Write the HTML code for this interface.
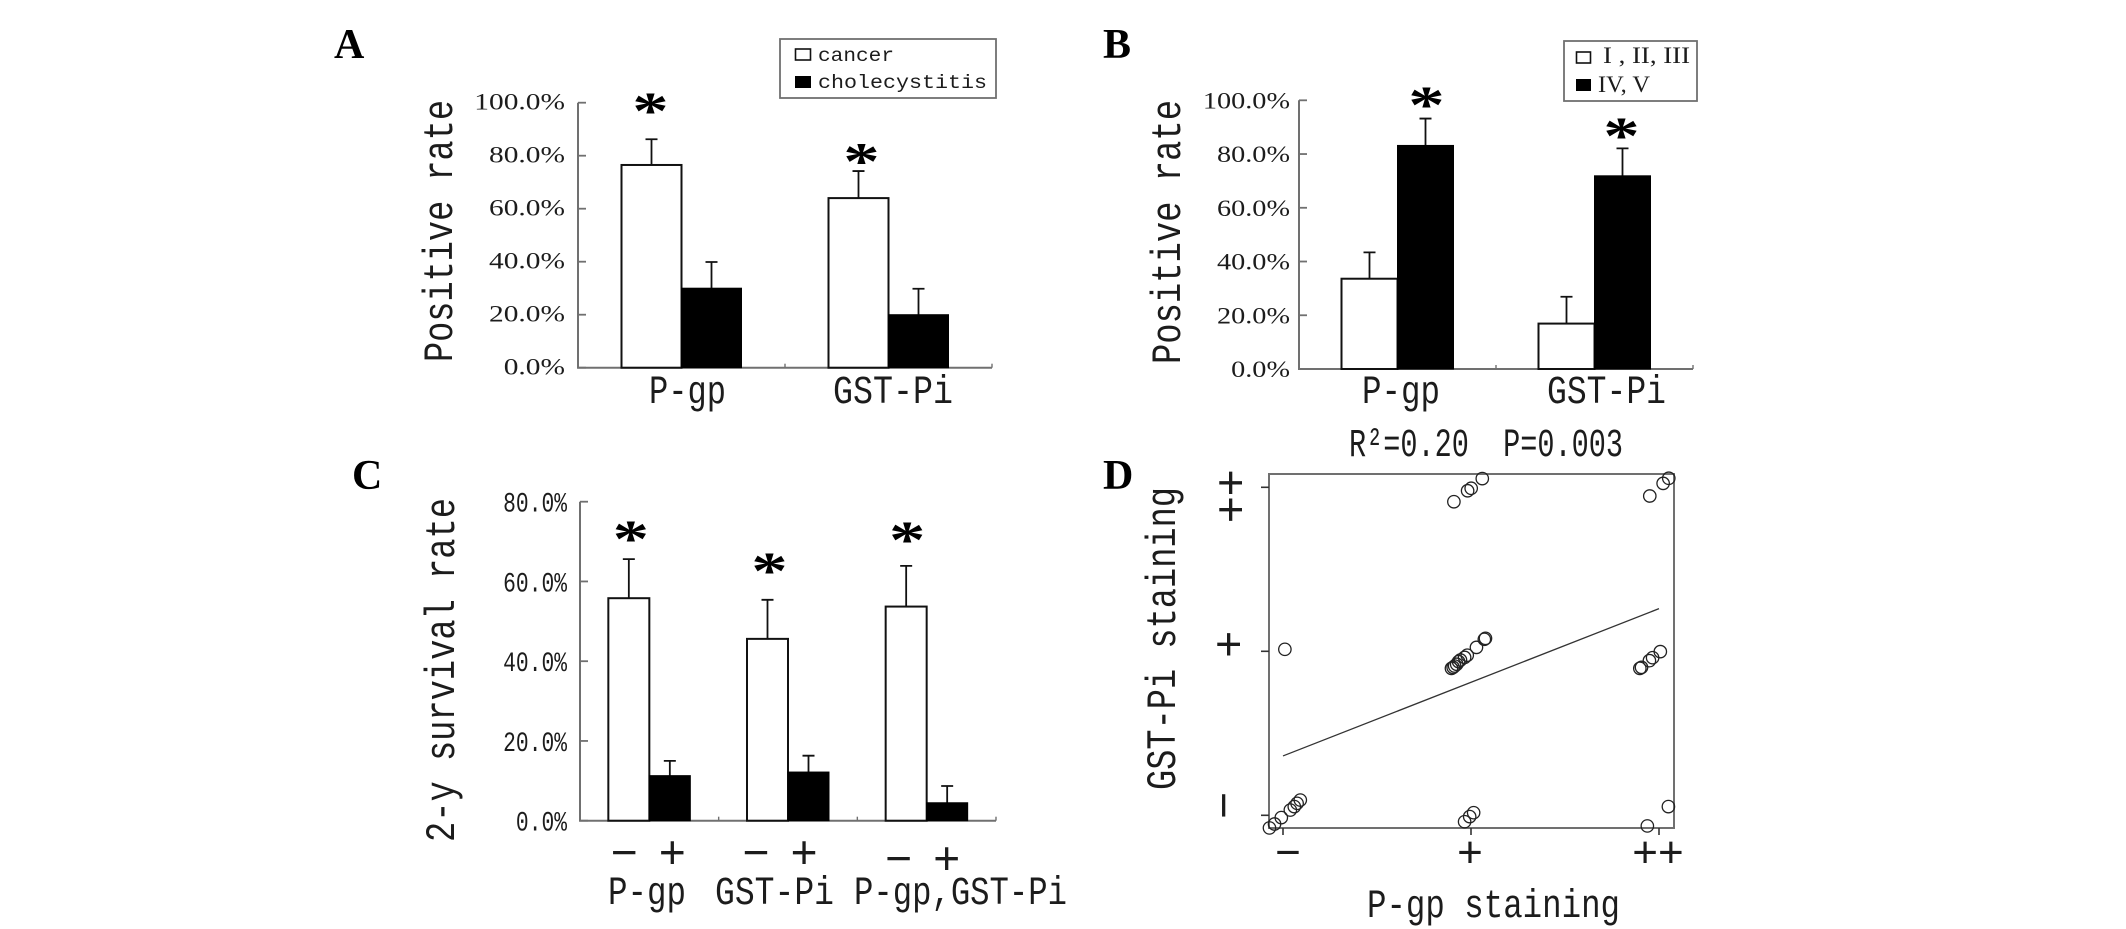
<!DOCTYPE html>
<html lang="en">
<head>
<meta charset="utf-8">
<title>P-gp and GST-Pi staining charts</title>
<style>
  html, body { margin: 0; padding: 0; background: #fff; }
  svg { display: block; filter: blur(0.35px); }
  text { fill: #1c1c1c; }
  .mono { font-family: "Liberation Mono", monospace; }
  .serif { font-family: "Liberation Serif", serif; }
  .sans { font-family: "Liberation Sans", sans-serif; }
  .panel { font-family: "Liberation Serif", serif; font-weight: bold; font-size: 42px; fill: #000; }
</style>
</head>
<body>
<svg id="figure" xmlns="http://www.w3.org/2000/svg" width="2126" height="929" viewBox="0 0 2126 929">
  <rect x="0" y="0" width="2126" height="929" fill="#fff"/>

  <text class="panel" x="334" y="58">A</text>
  <text class="panel" x="1103" y="58">B</text>
  <text class="panel" x="352" y="489">C</text>
  <text class="panel" x="1103" y="489">D</text>

  <text class="mono" font-size="42" textLength="262" lengthAdjust="spacingAndGlyphs" transform="translate(452,362) rotate(-90)">Positive rate</text>
  <text class="mono" font-size="42" textLength="264" lengthAdjust="spacingAndGlyphs" transform="translate(1180,364) rotate(-90)">Positive rate</text>
  <text class="mono" font-size="42" textLength="344" lengthAdjust="spacingAndGlyphs" transform="translate(454,842) rotate(-90)">2-y survival rate</text>
  <text class="mono" font-size="42" textLength="303" lengthAdjust="spacingAndGlyphs" transform="translate(1175,790) rotate(-90)">GST-Pi staining</text>
  <text class="mono" font-size="40" textLength="253" lengthAdjust="spacingAndGlyphs" x="1367" y="917">P-gp staining</text>
  <text class="mono" font-size="40" textLength="274" lengthAdjust="spacingAndGlyphs" x="1349" y="456">R²=0.20&#160;&#160;P=0.003</text>

  <g>
    <rect x="780" y="39" width="216" height="59" fill="#fff" stroke="#707070" stroke-width="1.8"/>
    <rect x="795.5" y="49" width="15" height="11" fill="#fff" stroke="#111" stroke-width="1.6"/>
    <text class="mono" font-size="19" textLength="76" lengthAdjust="spacingAndGlyphs" x="818" y="61">cancer</text>
    <rect x="795" y="76" width="16" height="12" fill="#000"/>
    <text class="mono" font-size="19" textLength="169" lengthAdjust="spacingAndGlyphs" x="818" y="88">cholecystitis</text>
  </g>

  <g>
    <rect x="1564" y="41" width="133" height="60" fill="#fff" stroke="#707070" stroke-width="1.8"/>
    <rect x="1576.5" y="52" width="14" height="11" fill="#fff" stroke="#111" stroke-width="1.6"/>
    <text class="serif" font-size="23" textLength="87" lengthAdjust="spacingAndGlyphs" x="1603" y="63">I , II, III</text>
    <rect x="1576" y="79" width="15" height="12" fill="#000"/>
    <text class="serif" font-size="23" textLength="52" lengthAdjust="spacingAndGlyphs" x="1598" y="92">IV, V</text>
  </g>

  <g id="plots"></g>
</svg>

<script>
// Panel A data
const aCategories = ["P-gp", "GST-Pi"];
const aWhite = [76.5, 64];
const aBlack = [30, 20];
const aWhiteErr = [86.2, 74.2];
const aBlackErr = [39.9, 29.8];
const aStarTop = [99.1, 80];
const aTicks = [0, 20, 40, 60, 80, 100];
const aTickLabels = ["0.0%", "20.0%", "40.0%", "60.0%", "80.0%", "100.0%"];

// Panel B data
const bCategories = ["P-gp", "GST-Pi"];
const bWhite = [33.6, 16.9];
const bBlack = [83.2, 71.9];
const bWhiteErr = [43.4, 26.9];
const bBlackErr = [93.2, 82.1];
const bStarTop = [100.5, 89];
const bTicks = [0, 20, 40, 60, 80, 100];
const bTickLabels = ["0.0%", "20.0%", "40.0%", "60.0%", "80.0%", "100.0%"];

// Panel C data
const cCategories = ["P-gp", "GST-Pi", "P-gp,GST-Pi"];
const cWhite = [55.8, 45.6, 53.7];
const cBlack = [11.3, 12.2, 4.5];
const cWhiteErr = [65.6, 55.4, 63.9];
const cBlackErr = [15, 16.3, 8.7];
const cStarTop = [72.1, 64.1, 71.9];
const cTicks = [0, 20, 40, 60, 80];
const cTickLabels = ["0.0%", "20.0%", "40.0%", "60.0%", "80.0%"];

// Panel D data (staining score: 0 = -, 1 = +, 2 = ++, with jitter)
const dPgp = [0.909, 0.982, 1.001, 1.060, 1.951, 2.022, 2.052, 0.010, 0.896, 0.905, 0.913, 0.924, 0.934, 0.944, 0.966, 0.980, 1.029, 1.071, 1.077, 1.898, 1.907, 1.949, 1.966, 2.007, -0.072, -0.045, -0.009, 0.039, 0.060, 0.075, 0.092, 0.966, 0.993, 1.014, 2.050, 1.938];
const dGst = [1.912, 1.979, 1.994, 2.053, 1.947, 2.024, 2.055, 1.012, 0.896, 0.902, 0.910, 0.921, 0.937, 0.947, 0.963, 0.976, 1.024, 1.073, 1.079, 0.896, 0.902, 0.943, 0.961, 0.998, -0.077, -0.053, -0.014, 0.032, 0.053, 0.073, 0.093, -0.039, -0.008, 0.016, 0.053, -0.065];
const dTrendX = [0, 2];
const dTrendY = [0.362, 1.26];
const dTicks = [0, 1, 2];
const dTickLabels = ["−", "+", "++"];

const NS = "http://www.w3.org/2000/svg";
const plots = document.getElementById("plots");

function make(tag, parent, attrs) {
  const el = document.createElementNS(NS, tag);
  for (const k in attrs) el.setAttribute(k, attrs[k]);
  parent.appendChild(el);
  return el;
}

function drawBarPanel(cfg) {
  const g = make("g", plots, {});
  
  
  const y = v => cfg.y0 + (cfg.yTop - cfg.y0) * v / cfg.yMax;
  const band = (cfg.right - cfg.left) / cfg.categories.length;
  const cx = i => cfg.left + band * (i + 0.5);

  const axisY = make("line", g, { x1: cfg.left, y1: y(0), x2: cfg.left, y2: y(cfg.yMax), stroke: "#707070", "stroke-width": 2 });
  
  
  const axisX = make("line", g, { x1: cfg.left - 1, y1: y(0), x2: cfg.right, y2: y(0), stroke: "#707070", "stroke-width": 2 });
  
  

  cfg.ticks.forEach((t, i) => {
    const tick = make("line", g, { x1: cfg.left, y1: y(t), x2: cfg.left + 8, y2: y(t), stroke: "#707070", "stroke-width": 1.8 });
    
    
    const label = make("text", g, {
      class: cfg.tickClass, "font-size": cfg.tickSize, "text-anchor": "end",
      transform: "translate(" + cfg.tickRight + "," + (y(t) + cfg.tickDy) + ") scale(" + cfg.tickScale + ",1)"
    });
    label.textContent = cfg.tickLabels[i];
    
    
  });

  for (let i = 0; i <= cfg.categories.length; i++) {
    const tx = cfg.left + band * i;
    const sep = make("line", g, { x1: tx, y1: y(0), x2: tx, y2: y(0) - 4, stroke: "#707070", "stroke-width": 1.4 });
    
    
  }

  cfg.categories.forEach((cat, i) => {
    const whiteX = cx(i) - cfg.barWidth;
    const blackX = cx(i);
    const whiteMid = whiteX + cfg.barWidth / 2;
    const blackMid = blackX + cfg.barWidth / 2;

    const eb1 = make("path", g, {
      d: "M" + whiteMid + " " + y(cfg.white[i]) + "V" + y(cfg.whiteErr[i]) + "M" + (whiteMid - 6) + " " + y(cfg.whiteErr[i]) + "H" + (whiteMid + 6),
      stroke: "#111", "stroke-width": 1.8, fill: "none"
    });
    
    

    const eb2 = make("path", g, {
      d: "M" + blackMid + " " + y(cfg.black[i]) + "V" + y(cfg.blackErr[i]) + "M" + (blackMid - 6) + " " + y(cfg.blackErr[i]) + "H" + (blackMid + 6),
      stroke: "#111", "stroke-width": 1.8, fill: "none"
    });
    
    

    const barW = make("rect", g, {
      x: whiteX, y: y(cfg.white[i]), width: cfg.barWidth, height: y(0) - y(cfg.white[i]),
      fill: "#fff", stroke: "#111", "stroke-width": 2
    });
    
    

    const barB = make("rect", g, {
      x: blackX, y: y(cfg.black[i]), width: cfg.barWidth, height: y(0) - y(cfg.black[i]),
      fill: "#000", stroke: "#000", "stroke-width": 1
    });
    
    

    const starMid = (cfg.starOnBlack ? blackMid : whiteMid) + cfg.starDx[i];
    const star = make("text", g, {
      class: "serif", "font-size": 56, "font-weight": "bold", "text-anchor": "middle",
      transform: "translate(" + starMid + "," + (y(cfg.starTop[i]) + 23.5) + ") scale(1.3,0.95)"
    });
    star.textContent = "*";
    star.style.fill = "#000";
    
    

    const catLabel = make("text", g, {
      class: "mono", "font-size": 40, textLength: cfg.catLen[i], lengthAdjust: "spacingAndGlyphs",
      x: cfg.catX[i], y: cfg.catY
    });
    catLabel.textContent = cat;
    
    
  });
}

drawBarPanel({
  name: "panel-a-bar-chart", categories: aCategories, white: aWhite, black: aBlack,
  whiteErr: aWhiteErr, blackErr: aBlackErr, starTop: aStarTop, ticks: aTicks, tickLabels: aTickLabels,
  left: 578, right: 992, y0: 367.7, yTop: 102.7, yMax: 100, barWidth: 60,
  tickRight: 565, tickDy: 7, tickScale: 1.28, tickSize: 23, tickClass: "serif",
  catX: [649, 833], catLen: [77, 120], catY: 403, starOnBlack: false, starDx: [-1, 3]
});

drawBarPanel({
  name: "panel-b-bar-chart", categories: bCategories, white: bWhite, black: bBlack,
  whiteErr: bWhiteErr, blackErr: bBlackErr, starTop: bStarTop, ticks: bTicks, tickLabels: bTickLabels,
  left: 1299, right: 1693, y0: 369, yTop: 100.3, yMax: 100, barWidth: 56,
  tickRight: 1290, tickDy: 8, tickScale: 1.23, tickSize: 23, tickClass: "serif",
  catX: [1362, 1547], catLen: [78, 119], catY: 403, starOnBlack: true, starDx: [1, -1]
});

drawBarPanel({
  name: "panel-c-bar-chart", categories: cCategories, white: cWhite, black: cBlack,
  whiteErr: cWhiteErr, blackErr: cBlackErr, starTop: cStarTop, ticks: cTicks, tickLabels: cTickLabels,
  left: 580, right: 996, y0: 820.7, yTop: 501.7, yMax: 80, barWidth: 41,
  tickRight: 567, tickDy: 10, tickScale: 0.76, tickSize: 28, tickClass: "mono",
  catX: [608, 715, 854], catLen: [78, 119, 213], catY: 904, starOnBlack: false, starDx: [2, 2, 1]
});

// Sign labels below panel C
const cSigns = ["−", "+", "−", "+", "−", "+"];
const cSignGroup = [0, 0, 1, 1, 2, 2];
const cSignRaise = [0, 0, 0, 0, 6, 6];
(function () {
  const left = 580, band = (996 - 580) / cCategories.length;
  const g = make("g", plots, {});
  
  
  cSigns.forEach((s, i) => {
    const center = left + band * (cSignGroup[i] + 0.5);
    const off = i % 2 === 0 ? -25 : 23;
    const t = make("text", g, {
      class: "sans", "font-size": 46, "text-anchor": "middle",
      x: center + off - (cSignGroup[i] === 1 ? 7 : cSignGroup[i] === 2 ? 3 : 0), y: 868 + cSignRaise[i]
    });
    t.textContent = s;
    
    
  });
})();

// Panel D scatter
(function () {
  const box = { left: 1269, right: 1674, top: 474, bottom: 828 };
  const x = v => 1283 + v * 188;
  const y = v => 815.3 - v * 164;
  const g = make("g", plots, {});
  
  

  const frame = make("rect", g, {
    x: box.left, y: box.top, width: box.right - box.left, height: box.bottom - box.top,
    fill: "none", stroke: "#707070", "stroke-width": 2
  });
  
  

  dTicks.forEach((t, i) => {
    const xt = make("line", g, { x1: x(t), y1: box.bottom, x2: x(t), y2: box.bottom + 7, stroke: "#333", "stroke-width": 1.6 });
    
    
    const yt = make("line", g, { x1: box.left, y1: y(t), x2: box.left - 8, y2: y(t), stroke: "#333", "stroke-width": 1.6 });
    
    

    const xl = make("text", g, {
      class: "sans", "font-size": 44, "text-anchor": "middle",
      x: x(t) + (i === 0 ? 5 : -1), y: 867
    });
    xl.textContent = dTickLabels[i];
    
    

    const yl = make("text", g, {
      class: "sans", "font-size": 46, "text-anchor": "middle",
      transform: "translate(" + (i === 0 ? 1239 : i === 1 ? 1244 : 1246) + "," + (y(t) + (i === 0 ? -10 : i === 1 ? -7 : 9)) + ") rotate(-90)"
    });
    yl.textContent = dTickLabels[i];
    
    
  });

  const trend = make("line", g, {
    x1: x(dTrendX[0]), y1: y(dTrendY[0]), x2: x(dTrendX[1]), y2: y(dTrendY[1]),
    stroke: "#333", "stroke-width": 1.3
  });
  
  

  dPgp.forEach((v, i) => {
    const c = make("circle", g, {
      cx: x(v), cy: y(dGst[i]), r: 6.2, fill: "none", stroke: "#222", "stroke-width": 1.3
    });
    
    
  });
})();
</script>
</body>
</html>
